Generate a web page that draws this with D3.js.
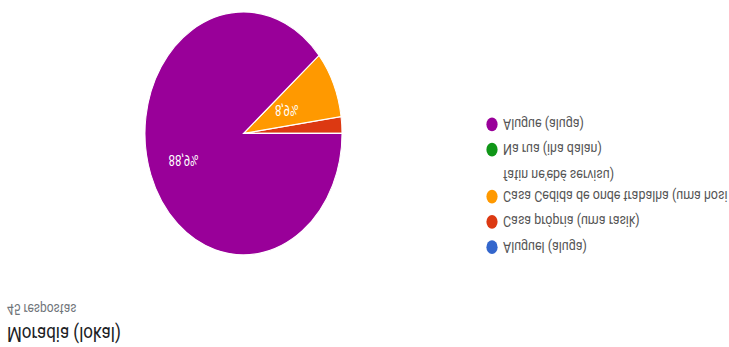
<!DOCTYPE html>
<html>
<head>
<meta charset="utf-8">
<script src="https://cdn.jsdelivr.net/npm/d3@7"></script>
<style>
  html, body { margin: 0; padding: 0; background: #fff; }
  svg { display: block; font-family: Roboto, Arial, sans-serif; }
</style>
</head>
<body>
<div id="chart"></div>
<script>
// Données
const titre = "Moradia (lokal)";
const nbReponses = "45 respostas";
const categories = ["Aluguel", "Casa própria", "Casa Cedida", "Na rua", "Alugue"];
const legendLines = [
    ["Aluguel (aluga)"],
    ["Casa própria (uma rasik)"],
    ["Casa Cedida de onde trabalha (uma hosi", "fatin ne'ebé servisu)"],
    ["Na rua (iha dalan)"],
    ["Alugue (aluga)"]
];
const values = [0, 1, 4, 0, 40];
const colors = ["#3366cc", "#dc3912", "#ff9900", "#109618", "#990099"];

const width = 729, height = 347;
const stretch = 1.233;               // l'image est étirée verticalement

const svg = d3.select("#chart").append("svg")
    .attr("width", width).attr("height", height);

// l'image de référence est retournée (miroir vertical)
const root = svg.append("g")
    .attr("transform", `translate(0,${height}) scale(1,${-stretch})`);

// Titre
root.append("text")
    .attr("x", 7).attr("y", 16.5)
    .style("font-size", "17px")
    .attr("fill", "#202124")
    .text(titre);

root.append("text")
    .attr("x", 7).attr("y", 35)
    .style("font-size", "12px")
    .attr("fill", "#70757a")
    .text(nbReponses);

// Camembert
const cx = 243.5, cy = 173.2, radius = 98.5;
const total = d3.sum(values);
const data = categories.map((c, i) => ({ key: c, value: values[i], color: colors[i] }));

const pie = d3.pie().sort(null).value(d => d.value)
    .startAngle(Math.PI / 2).endAngle(Math.PI / 2 + 2 * Math.PI);
const arc = d3.arc().innerRadius(0).outerRadius(radius);
const labelArc = d3.arc().innerRadius(radius * 0.6).outerRadius(radius * 0.6);

const g = root.append("g").attr("transform", `translate(${cx},${cy})`);

g.selectAll("path")
    .data(pie(data).filter(d => d.data.value > 0))
    .enter().append("path")
    .attr("d", arc)
    .attr("fill", d => d.data.color)
    .attr("stroke", "#fff")
    .attr("stroke-width", 1);

const fmt = v => (v * 100).toFixed(1).replace(".", ",") + "%";

// étiquettes : les petites sont rapprochées du centre
g.selectAll("text")
    .data(pie(data).filter(d => d.data.value / total > 0.05))
    .enter().append("text")
    .attr("transform", d => {
        const [x, y] = labelArc.centroid(d);
        const k = (d.endAngle - d.startAngle) < 1 ? 0.8 : 1.08;
        return `translate(${x * k},${y * k})`;
    })
    .attr("text-anchor", "middle")
    .attr("dy", "0.35em")
    .style("font-size", "11.5px")
    .attr("fill", "#fff")
    .text(d => fmt(d.data.value / total));

// Légende
const legendX = 492, legendY = 81, rowGap = 20.5, lineGap = 17.5;
let y = legendY;
const legend = root.append("g");
legendLines.forEach((lines, i) => {
    const item = legend.append("g").attr("transform", `translate(${legendX},${y})`);
    item.append("circle").attr("r", 5.6).attr("fill", colors[i]);
    const t = item.append("text")
        .attr("x", 11).attr("dy", "0.35em")
        .style("font-size", "12.5px")
        .attr("fill", "#555");
    lines.forEach((l, j) => {
        t.append("tspan").attr("x", 11).attr("dy", j === 0 ? "0.35em" : lineGap).text(l);
    });
    y += rowGap + (lines.length - 1) * lineGap;
});
</script>
</body>
</html>
